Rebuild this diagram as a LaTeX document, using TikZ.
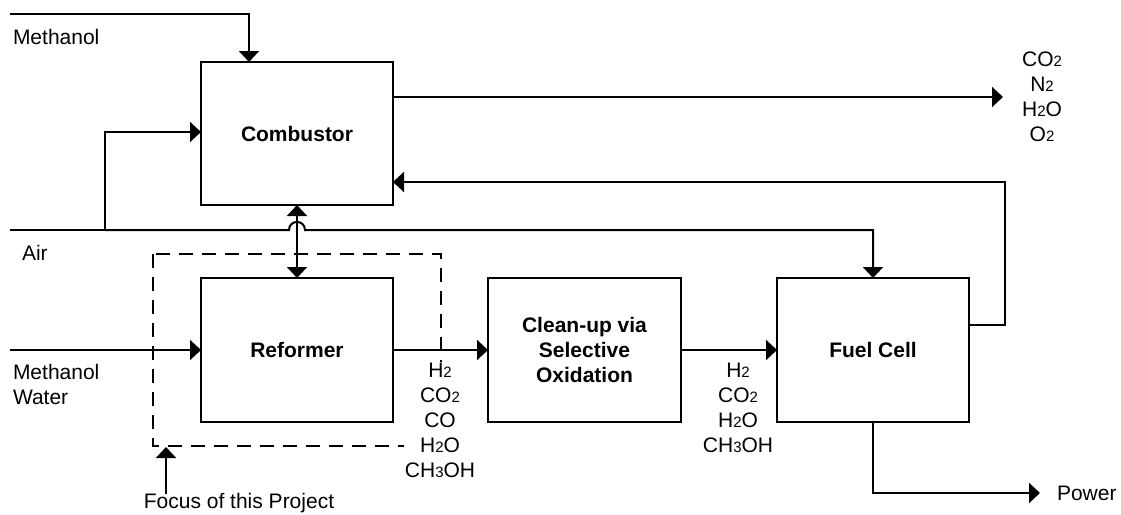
\documentclass[tikz,border=0pt]{standalone}
\usepackage{fontspec}
\setmainfont{Liberation Sans}
\usetikzlibrary{arrows.meta}
\newcommand\subs[1]{{\fontsize{15}{15}\selectfont #1}}
\begin{document}
\begin{tikzpicture}[x=1pt,y=-1pt,
  line width=2pt,
  every node/.style={font=\fontsize{21}{25}\selectfont, inner sep=0pt, outer sep=0pt},
  box/.style={draw, minimum width=192pt, minimum height=144pt, align=center, font=\fontsize{21}{25}\selectfont\bfseries},
  arr/.style={-{Triangle[width=20pt,length=11pt]}},
  arrtwo/.style={{Triangle[width=20pt,length=11pt]}-{Triangle[width=20pt,length=11pt]}},
  lbl/.style={align=center, fill=white, inner sep=1pt},
  focusbox/.style={dash pattern=on 14pt off 9pt}
]
\useasboundingbox (0,0) rectangle (1121,514);

% boxes
\node[box, minimum height=143pt] (comb) at (297,133.5) {Combustor};
\node[box] (ref) at (297,350) {Reformer};
\node[box, minimum width=193pt] (clean) at (584.5,350) {Clean-up via\\Selective\\Oxidation};
\node[box] (fc) at (873,350) {Fuel Cell};

% focus (dashed) box
\draw[focusbox] (153,254) rectangle (441,446);

% coordinates for free ends
\coordinate (m1) at (10,14);
\coordinate (air) at (10,230);
\coordinate (airb) at (105,230);
\coordinate (hopa) at (289,230);
\coordinate (hopb) at (305,230);
\coordinate (mw) at (10,350);
\coordinate (exh) at (1003,97);
\coordinate (fbr) at (1005,325);
\coordinate (pow) at (1040,493);
\coordinate (foc) at (166,494);
\coordinate (focend) at (166,447);

% methanol to combustor
\draw[arr] (m1) -| ([xshift=-48pt]comb.north);
% air
\draw (air) -- (airb);
\draw[arr] (airb) |- ([yshift=1.5pt]comb.west);
\draw[arr] (airb) -- (hopa) .. controls (289,219.3) and (305,219.3) .. (hopb) -| (fc.north);
% combustor <-> reformer
\draw[arrtwo] (comb.south) -- (ref.north);
% exhaust
\draw[arr] (comb.east |- exh) -- (exh);
% feedback from fuel cell
\draw[arr] (fc.east |- fbr) -- (fbr) |- (comb.east |- 0,182);
% main train
\draw[arr] (mw) -- (ref.west);
\draw[arr] (ref.east) -- (clean.west);
\draw[arr] (clean.east) -- (fc.west);
% power
\draw[arr] (fc.south) |- (pow);
% focus arrow
\draw[arr] (foc) -- (focend);

% labels
\node[anchor=west] (lm) at (13,37) {Methanol};
\node[anchor=west] (lair) at (22,253) {Air};
\node[anchor=west, align=left] (lmw) at (13,384.5) {Methanol\\Water};
\node[lbl] (lref) at (440,420.5) {H\subs{2}\\CO\subs{2}\\CO\\H\subs{2}O\\CH\subs{3}OH};
\node[lbl] (lclean) at (738,408) {H\subs{2}\\CO\subs{2}\\H\subs{2}O\\CH\subs{3}OH};
\node[lbl] (lexh) at (1042,97) {CO\subs{2}\\N\subs{2}\\H\subs{2}O\\O\subs{2}};
\node[anchor=west] (lpow) at (1057,493) {Power};
\node (lfoc) at (239,503) {Focus of this Project};
\end{tikzpicture}
\end{document}
